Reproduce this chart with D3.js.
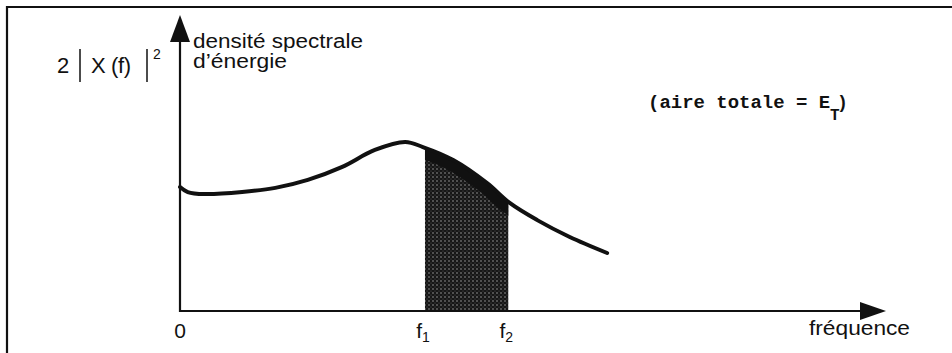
<!DOCTYPE html>
<html>
<head>
<meta charset="utf-8">
<script src="https://cdn.jsdelivr.net/npm/d3@7"></script>
<style>
  html, body { margin: 0; padding: 0; background: #fff; }
  svg { display: block; }
  text { fill: #111; }
</style>
</head>
<body>
<div id="chart"></div>
<script>
// curve (arbitrary units)
const freq    = [0, 0.11, 0.35, 0.88, 1.35, 1.81, 2.29, 2.76, 3.19, 3.44, 3.87, 4.35, 4.67, 5.06, 5.52, 6.05];
const density = [0.419, 0.402, 0.395, 0.402, 0.416, 0.443, 0.486, 0.544, 0.571, 0.554, 0.510, 0.432, 0.365, 0.307, 0.250, 0.196];
const band = [3.47, 4.65];           // f1, f2
const xTicks = [
  {v: 0, main: "0", sub: ""},
  {v: band[0], main: "f", sub: "1"},
  {v: band[1], main: "f", sub: "2"}
];
const xLabel = "fréquence";
const yLabel = ["densité spectrale", "d’énergie"];
const xMax = 10, yMax = 1;

const width = 952, height = 353;
const svg = d3.select("#chart").append("svg")
  .attr("width", width).attr("height", height);

const x = d3.scaleLinear().domain([0, xMax]).range([180, 886]);
const y = d3.scaleLinear().domain([0, yMax]).range([311, 15]);

const pts = freq.map((f, i) => ({f: f, v: density[i]}));

// frame (top + left, the rest is cut off)
svg.append("path")
  .attr("d", "M7,353 L7,7 L952,7")
  .attr("fill", "none").attr("stroke", "#111").attr("stroke-width", 2.2);

const curve = d3.curveCatmullRom.alpha(0.5);
const area = d3.area().x(d => x(d.f)).y0(y(0)).y1(d => y(d.v)).curve(curve);
const line = d3.line().x(d => x(d.f)).y(d => y(d.v)).curve(curve);

// halftone pattern
const defs = svg.append("defs");
const pat = defs.append("pattern")
  .attr("id", "dots").attr("width", 4).attr("height", 4)
  .attr("patternUnits", "userSpaceOnUse");
pat.append("rect").attr("width", 4).attr("height", 4).attr("fill", "#161616");
pat.append("circle").attr("cx", 1).attr("cy", 1).attr("r", 0.8).attr("fill", "#9a9a9a");
pat.append("circle").attr("cx", 3).attr("cy", 3).attr("r", 0.6).attr("fill", "#5a5a5a");

defs.append("clipPath").attr("id", "bandClip")
  .append("rect")
  .attr("x", x(band[0])).attr("y", 0)
  .attr("width", x(band[1]) - x(band[0])).attr("height", height);
defs.append("clipPath").attr("id", "areaClip")
  .append("path").datum(pts).attr("d", area);

const shade = svg.append("g").attr("clip-path", "url(#bandClip)")
  .append("g").attr("clip-path", "url(#areaClip)");
shade.append("path").datum(pts).attr("d", area).attr("fill", "url(#dots)");
// dark band just under the curve
shade.append("path").datum(pts).attr("d", line)
  .attr("fill", "none").attr("stroke", "#111").attr("stroke-width", 22);

// axes
const axis = svg.append("g").attr("stroke", "#111").attr("fill", "#111");
axis.append("line")
  .attr("x1", x(0)).attr("x2", x(xMax) - 20)
  .attr("y1", y(0)).attr("y2", y(0)).attr("stroke-width", 2);
axis.append("path")
  .attr("d", `M${x(xMax)},${y(0)} L${x(xMax) - 26},${y(0) - 9} L${x(xMax) - 26},${y(0) + 9} Z`)
  .attr("stroke", "none");
axis.append("line")
  .attr("x1", x(0)).attr("x2", x(0))
  .attr("y1", y(0) + 1).attr("y2", y(yMax) + 20).attr("stroke-width", 2.2);
axis.append("path")
  .attr("d", `M${x(0)},${y(yMax)} L${x(0) - 10},${y(yMax) + 27} L${x(0) + 10},${y(yMax) + 27} Z`)
  .attr("stroke", "none");

// curve
svg.append("path").datum(pts).attr("d", line)
  .attr("fill", "none").attr("stroke", "#111").attr("stroke-width", 4)
  .attr("stroke-linecap", "round");

const sans = "'Liberation Sans', Arial, sans-serif";

// x tick labels
xTicks.forEach(t => {
  const tx = svg.append("text")
    .attr("x", x(t.v) + (t.sub ? -2 : 0)).attr("y", 338)
    .attr("text-anchor", "middle")
    .style("font-family", sans).style("font-size", "21px");
  tx.append("tspan").text(t.main);
  if (t.sub) tx.append("tspan").attr("dy", 4).style("font-size", "14px").text(t.sub);
});

svg.append("text")
  .attr("x", 809).attr("y", 335).attr("textLength", 101).attr("lengthAdjust", "spacingAndGlyphs")
  .style("font-family", sans).style("font-size", "21px").text(xLabel);

// y label
yLabel.forEach((s, i) => {
  svg.append("text")
    .attr("x", 193).attr("y", 48 + i * 20)
    .attr("textLength", i ? 94 : 170).attr("lengthAdjust", "spacingAndGlyphs")
    .style("font-family", sans).style("font-size", "20px").text(s);
});

// 2|X(f)|^2
const sym = svg.append("g").style("font-family", sans);
sym.append("text").attr("x", 57).attr("y", 73).style("font-size", "22px").text("2");
sym.append("line").attr("x1", 80).attr("x2", 80).attr("y1", 49).attr("y2", 82)
  .attr("stroke", "#111").attr("stroke-width", 1.5);
sym.append("text").attr("x", 91).attr("y", 73).style("font-size", "22px").text("X");
sym.append("text").attr("x", 111).attr("y", 73).attr("textLength", 20)
  .style("font-size", "22px").text("(f)");
sym.append("line").attr("x1", 147).attr("x2", 147).attr("y1", 49).attr("y2", 82)
  .attr("stroke", "#111").attr("stroke-width", 1.5);
sym.append("text").attr("x", 153).attr("y", 59).style("font-size", "14px").text("2");

// (aire totale = E_T)
const mono = "'Liberation Mono', 'Courier New', monospace";
const note = svg.append("g").style("font-family", mono).style("font-weight", "bold");
note.append("text").attr("x", 648).attr("y", 108).attr("textLength", 182)
  .attr("lengthAdjust", "spacingAndGlyphs").style("font-size", "18px").text("(aire totale = E");
note.append("text").attr("x", 830).attr("y", 120).style("font-size", "16px").text("T");
note.append("text").attr("x", 837).attr("y", 108).style("font-size", "18px").text(")");
</script>
</body>
</html>
